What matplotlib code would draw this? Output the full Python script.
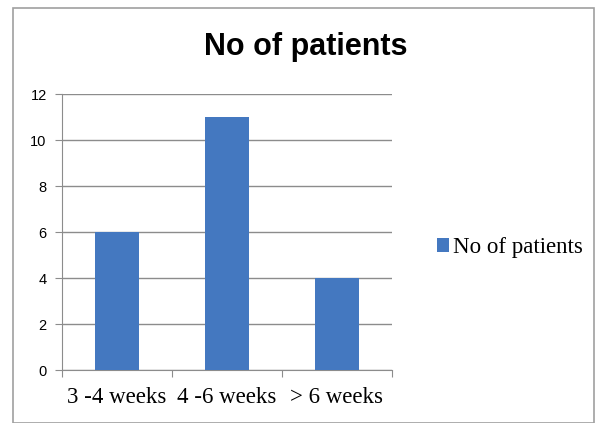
import matplotlib.pyplot as plt
from matplotlib.patches import Rectangle

categories = ['3 -4 weeks', '4 -6 weeks', '> 6 weeks']
patients = [6, 11, 4]
yticks = [0, 2, 4, 6, 8, 10, 12]

fig = plt.figure(figsize=(6.04, 4.23), dpi=100)
W, H = 604, 423

# outer chart frame
fig.patches.append(Rectangle((13 / W, 0.0), 581 / W, (H - 8) / H, transform=fig.transFigure,
                             fill=False, edgecolor='#a0a0a0', linewidth=1.2))

ax = fig.add_axes([62 / W, 1 - 370 / H, 330 / W, (370 - 94) / H])
x = range(len(categories))
ax.bar(x, patients, width=0.4, color='#4478c0', zorder=3, label='No of patients')
ax.set_xlim(-0.5, 2.5)
ax.set_ylim(0, 12)
ax.set_yticks(yticks)
ax.set_yticklabels([str(v) for v in yticks], fontsize=10.5, family='Liberation Sans')
ax.grid(axis='y', color='#8c8c8c', linewidth=1, zorder=0)
for s in ['top', 'right']:
    ax.spines[s].set_visible(False)
for s in ['left', 'bottom']:
    ax.spines[s].set_color('#8c8c8c')
ax.tick_params(axis='y', length=5, color='#8c8c8c', direction='out', pad=6)

# category boundaries carry the x tick marks
ax.set_xticks([-0.5, 0.5, 1.5, 2.5])
ax.set_xticklabels([])
ax.tick_params(axis='x', length=5, color='#8c8c8c', direction='out')
for i, c in enumerate(categories):
    ax.text(i, -0.75, c, ha='center', va='top', fontsize=16.5, family='Liberation Serif',
            transform=ax.transData)

fig.text(306 / W, 1 - 47 / H, 'No of patients', ha='center', va='center',
         fontsize=22, fontweight='bold', family='Liberation Sans')

fig.legend(loc='center left', bbox_to_anchor=(416 / W, 1 - 248 / H), frameon=False,
           prop={'family': 'Liberation Serif', 'size': 16.5}, handlelength=0.55,
           handleheight=0.55, handletextpad=0.15)

fig.savefig('out.png', dpi=100)
